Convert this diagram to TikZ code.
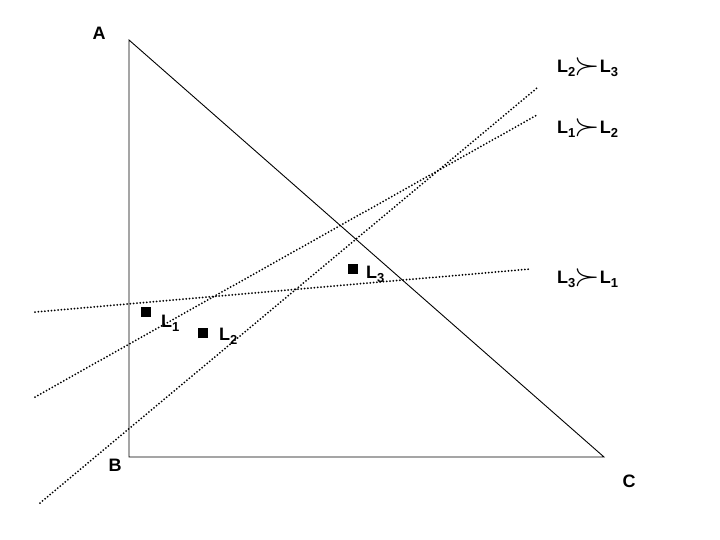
\documentclass[tikz,border=0pt]{standalone}
\usepackage{fontspec}
\setmainfont{Liberation Sans}
\newcommand{\sbs}[1]{\raisebox{-4pt}{\fontsize{13}{14}\selectfont #1}}
\newcommand{\prf}{\kern-0.5pt\raisebox{-1.5pt}{\scalebox{1.9}[1.8]{$\succ$}}\kern-0.5pt}
\begin{document}
\begin{tikzpicture}[x=1pt,y=-1pt,
  lbl/.style={font=\fontsize{18}{20}\selectfont\bfseries, inner sep=0pt},
  dotline/.style={line width=2pt, dash pattern=on 0pt off 3.3pt, line cap=round},
  pt/.style={fill=black, minimum size=10pt, inner sep=0pt, draw=none}]
\useasboundingbox (0,0) rectangle (720,540);
\coordinate (A) at (129,40);
\coordinate (B) at (129,457);
\coordinate (C) at (604,457);
\draw[line width=0.9pt] (A) -- (B) -- (C) -- cycle;
\node[lbl] (lA) at (99,33) {A};
\node[lbl] (lB) at (115,465) {B};
\node[lbl] (lC) at (629,481) {C};
\coordinate (p1) at (35,312);
\coordinate (q1) at (530,269);
\coordinate (p2) at (35,397);
\coordinate (q2) at (537,115);
\coordinate (p3) at (40,503);
\coordinate (q3) at (537,88);
\draw[dotline] (p1) -- (q1);
\draw[dotline] (p2) -- (q2);
\draw[dotline] (p3) -- (q3);
\node[pt] (s1) at (146,312) {};
\node[pt] (s2) at (203,333) {};
\node[pt] (s3) at (353,269) {};
\node[lbl, anchor=west] (t1) at (161,323) {L\sbs{1}};
\node[lbl, anchor=west] (t2) at (219,336) {L\sbs{2}};
\node[lbl, anchor=west] (t3) at (366,274) {L\sbs{3}};
\node[lbl, anchor=west] (r1) at (557,67) {L\sbs{2}\prf L\sbs{3}};
\node[lbl, anchor=west] (r2) at (557,128) {L\sbs{1}\prf L\sbs{2}};
\node[lbl, anchor=west] (r3) at (557,278) {L\sbs{3}\prf L\sbs{1}};
\end{tikzpicture}
\end{document}
